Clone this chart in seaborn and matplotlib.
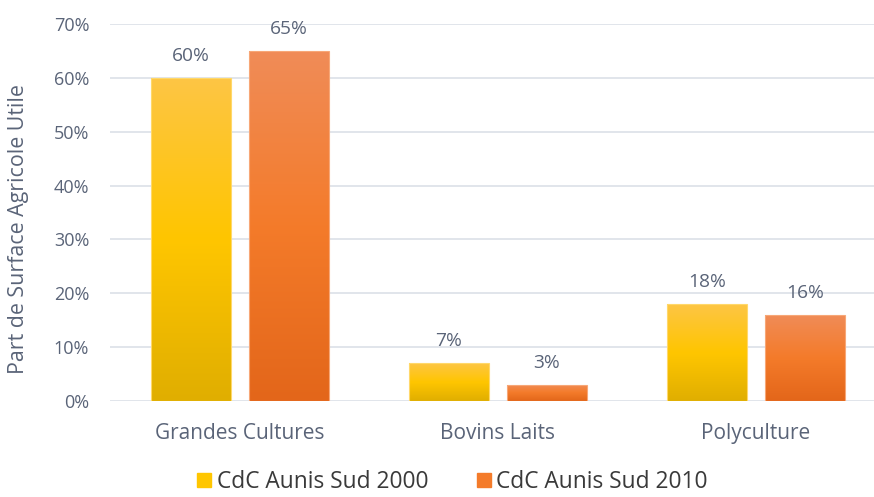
import numpy as np
import pandas as pd
import matplotlib
matplotlib.use("Agg")
import matplotlib.pyplot as plt
from matplotlib.colors import LinearSegmentedColormap
from matplotlib.patches import Rectangle
from matplotlib.lines import Line2D
import seaborn as sns

categories = ["Grandes Cultures", "Bovins Laits", "Polyculture"]
series_names = ["CdC Aunis Sud 2000", "CdC Aunis Sud 2010"]
values_2000 = [60, 7, 18]
values_2010 = [65, 3, 16]
y_ticks = [0, 10, 20, 30, 40, 50, 60, 70]
y_label = "Part de Surface Agricole Utile"

df = pd.DataFrame({
    "cat": categories * 2,
    "serie": [series_names[0]] * 3 + [series_names[1]] * 3,
    "val": values_2000 + values_2010,
})

sns.set_theme(style="white")
plt.rcParams["font.family"] = ["Open Sans", "DejaVu Sans"]
txt = "#5a6478"

fig = plt.figure(figsize=(8.74, 4.97), dpi=100)
ax = fig.add_axes([110 / 874, 96 / 497, 764 / 874, 377 / 497])

base = {series_names[0]: "#FFC600", series_names[1]: "#F47B2A"}
sns.barplot(data=df, x="cat", y="val", hue="serie", palette=base,
            width=0.76, gap=0.19, ax=ax, legend=False, errorbar=None,
            order=categories, hue_order=series_names)

grads = {
    series_names[0]: LinearSegmentedColormap.from_list("y", ["#E0AE00", "#FFC600", "#FDC545"]),
    series_names[1]: LinearSegmentedColormap.from_list("o", ["#E3661A", "#F47B2A", "#F08C58"]),
}
edges = {series_names[0]: "#FFD86A", series_names[1]: "#F7A777"}

bars = [p for p in ax.patches if isinstance(p, Rectangle)]
grad = np.linspace(0, 1, 256).reshape(-1, 1)
for i, p in enumerate(bars):
    s = series_names[i // 3]
    x0, y0 = p.get_x(), p.get_y()
    w, h = p.get_width(), p.get_height()
    im = ax.imshow(grad, cmap=grads[s], origin="lower", aspect="auto",
                   extent=[x0, x0 + w, y0, y0 + h], zorder=2.5)
    im.set_clip_path(p)
    p.set_facecolor("none")
    p.set_edgecolor(edges[s])
    p.set_linewidth(0.8)
    p.set_zorder(2.6)
    ax.text(x0 + w / 2, y0 + h + 2.4, f"{int(round(h))}%", ha="center", va="bottom",
            fontsize=13.8, color=txt)

ax.set_xlim(-0.503, 2.457)
ax.set_ylim(0, 70)
ax.set_yticks(y_ticks)
ax.set_yticklabels([f"{t}%" for t in y_ticks], fontsize=13, color=txt)
ax.tick_params(axis="x", labelsize=15, colors=txt, pad=16, length=0)
ax.tick_params(axis="y", pad=15, length=0)
for lab in ax.get_xticklabels():
    lab.set_color(txt)
ax.set_xlabel("")
ax.set_ylabel(y_label, fontsize=15.4, color=txt)
ax.yaxis.set_label_coords(-81 / 764, (401 - 229) / 377)
ax.grid(axis="y", color="#dce0e8", linewidth=1.2)
ax.set_axisbelow(True)
for sp in ax.spines.values():
    sp.set_visible(False)

handles = [Line2D([], [], marker="s", linestyle="none", markersize=10,
                  markerfacecolor=c, markeredgecolor=c)
           for c in ["#FFC600", "#F47B2A"]]
fig.legend(handles, series_names, loc="center", bbox_to_anchor=(452 / 874, 15 / 497),
           ncol=2, frameon=False, fontsize=16.4, labelcolor="#3a3a3a",
           handletextpad=0.2, columnspacing=2.1, handlelength=0.7,
           borderpad=0.1)

fig.savefig("out.png", dpi=100)
